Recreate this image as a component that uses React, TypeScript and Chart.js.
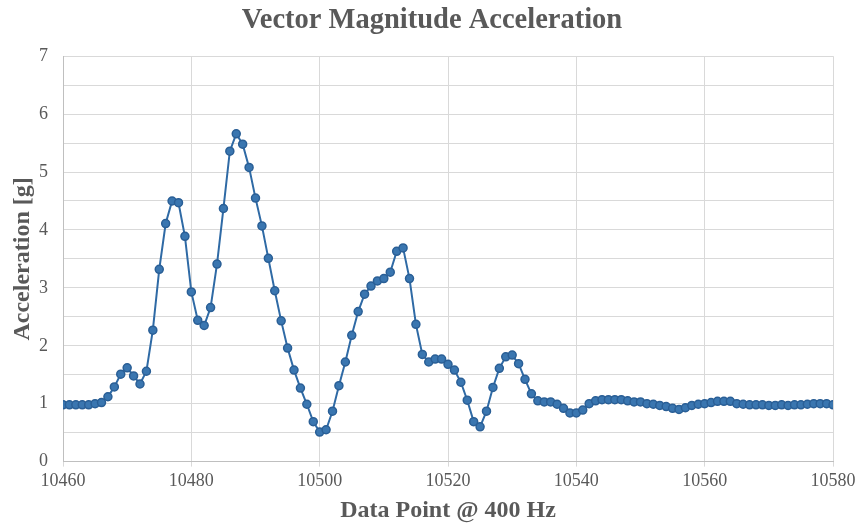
import React, { useEffect, useRef } from "react";
import { Chart, registerables } from "chart.js";

Chart.register(...registerables);

const xStart = 10460;
const accel: number[] = [
  0.98, 0.98, 0.98, 0.98, 0.98, 1.0, 1.02, 1.12, 1.29, 1.51,
  1.62, 1.48, 1.34, 1.56, 2.27, 3.32, 4.11, 4.5, 4.47, 3.89,
  2.93, 2.44, 2.35, 2.66, 3.41, 4.37, 5.36, 5.66, 5.48, 5.08,
  4.55, 4.07, 3.51, 2.95, 2.43, 1.96, 1.58, 1.27, 0.99, 0.69,
  0.51, 0.55, 0.87, 1.31, 1.72, 2.18, 2.59, 2.89, 3.03, 3.12,
  3.16, 3.27, 3.63, 3.69, 3.16, 2.37, 1.85, 1.72, 1.77, 1.77,
  1.68, 1.58, 1.37, 1.06, 0.69, 0.6, 0.87, 1.28, 1.61, 1.81,
  1.84, 1.69, 1.42, 1.17, 1.05, 1.03, 1.03, 0.99, 0.92, 0.84,
  0.84, 0.89, 1.0, 1.05, 1.07, 1.07, 1.07, 1.07, 1.05, 1.03,
  1.03, 1.0, 0.99, 0.97, 0.95, 0.92, 0.9, 0.93, 0.97, 0.99,
  1.0, 1.02, 1.04, 1.04, 1.04, 1.0, 0.99, 0.98, 0.98, 0.98,
  0.97, 0.97, 0.98, 0.97, 0.98, 0.98, 0.99, 1.0, 1.0, 1.0,
  0.98,
];
const xTicks = [10460, 10480, 10500, 10520, 10540, 10560, 10580];
const yTicks = [0, 1, 2, 3, 4, 5, 6, 7];

const TITLE = "Vector Magnitude Acceleration";
const X_TITLE = "Data Point @ 400 Hz";
const Y_TITLE = "Acceleration [g]";

export default function App() {
  const ref = useRef<HTMLCanvasElement | null>(null);
  useEffect(() => {
    if (!ref.current) return;
    const points = accel.map((v, i) => ({ x: xStart + i, y: v }));
    const serif = "'Liberation Serif', 'DejaVu Serif', serif";
    const chart = new Chart(ref.current, {
      type: "line",
      data: {
        datasets: [
          {
            data: points,
            borderColor: "#2F6AA5",
            backgroundColor: "#3A76B0",
            pointBorderColor: "#2A5F96",
            pointBackgroundColor: "#3A76B0",
            borderWidth: 2,
            pointRadius: 4,
            pointBorderWidth: 1.5,
            tension: 0,
          },
        ],
      },
      options: {
        animation: false,
        responsive: false,
        layout: { padding: { left: 8, right: 4, top: 2, bottom: 4 } },
        plugins: {
          legend: { display: false },
          tooltip: { enabled: false },
          title: {
            display: true,
            text: TITLE,
            color: "#595959",
            font: { family: serif, size: 28.5, weight: "bold" },
            padding: { top: 2, bottom: 18 },
          },
        },
        scales: {
          x: {
            type: "linear",
            min: xTicks[0],
            max: xTicks[xTicks.length - 1],
            afterBuildTicks: (axis: any) => {
              axis.ticks = xTicks.map((v) => ({ value: v }));
            },
            afterFit: (scale: any) => {
              scale.paddingRight = 27;
            },
            ticks: {
              color: "#595959",
              font: { family: serif, size: 18 },
              callback: (v: any) => String(v),
              maxRotation: 0,
              padding: 4,
            },
            grid: { color: "#D9D9D9", lineWidth: 1, tickLength: 5 },
            border: { color: "#BFBFBF" },
            title: {
              display: true,
              text: X_TITLE,
              color: "#595959",
              font: { family: serif, size: 24, weight: "bold" },
              padding: { top: 0, bottom: 0 },
            },
          },
          y: {
            min: 0,
            max: 7,
            afterFit: (scale: any) => {
              scale.width = 55;
            },
            ticks: {
              stepSize: 0.5,
              color: "#595959",
              font: { family: serif, size: 18 },
              callback: (v: any) => (yTicks.includes(Number(v)) ? String(v) : ""),
              padding: 15,
            },
            grid: { color: "#D9D9D9", lineWidth: 1, tickLength: 0 },
            border: { color: "#BFBFBF" },
            title: {
              display: true,
              text: Y_TITLE,
              color: "#595959",
              font: { family: serif, size: 24, weight: "bold" },
              padding: { top: 0, bottom: 3 },
            },
          },
        },
      },
    });
    return () => chart.destroy();
  }, []);
  return (
    <div style={{ position: "absolute", left: 0, top: 0, width: 860, height: 529, background: "#fff" }}>
      <canvas ref={ref} width={860} height={529} style={{ width: 860, height: 529 }} />
    </div>
  );
}
